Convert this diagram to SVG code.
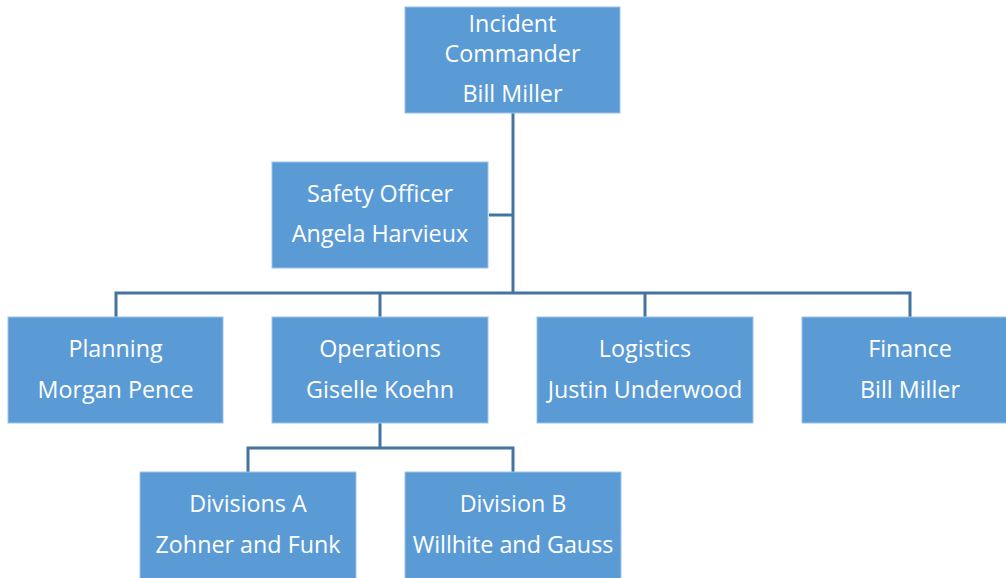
<svg xmlns="http://www.w3.org/2000/svg" width="1006" height="578" viewBox="0 0 1006 578">
<style>
.box{fill:#5B9BD5;stroke:#9DC3E6;stroke-width:1}
.t{font-family:"Open Sans","Liberation Sans",sans-serif;font-size:23.3px;fill:#FFFFFF;text-anchor:middle}
.c{fill:none;stroke:#4574A0;stroke-width:3}
</style>
<rect width="1006" height="578" fill="#FFFFFF"/>
<g id="connectors">
<path class="c" d="M513 113V293"/>
<path class="c" d="M489 215H513"/>
<path class="c" d="M116 317V293H910V317"/>
<path class="c" d="M380 293V317"/>
<path class="c" d="M645 293V317"/>
<path class="c" d="M380 423V448"/>
<path class="c" d="M248 472V448H513V472"/>
</g>
<g id="incident-commander">
<rect class="box" x="405" y="7" width="215" height="106"/>
<text class="t" x="512.5" y="32">Incident</text>
<text class="t" x="512.5" y="62">Commander</text>
<text class="t" x="512.5" y="102">Bill Miller</text>
</g>
<g id="safety-officer">
<rect class="box" x="272" y="162" width="216" height="106"/>
<text class="t" x="380" y="202">Safety Officer</text>
<text class="t" x="380" y="242">Angela Harvieux</text>
</g>
<g id="planning">
<rect class="box" x="8" y="317" width="215" height="106"/>
<text class="t" x="115.5" y="357">Planning</text>
<text class="t" x="115.5" y="398">Morgan Pence</text>
</g>
<g id="operations">
<rect class="box" x="272" y="317" width="216" height="106"/>
<text class="t" x="380" y="357">Operations</text>
<text class="t" x="380" y="398">Giselle Koehn</text>
</g>
<g id="logistics">
<rect class="box" x="537" y="317" width="216" height="106"/>
<text class="t" x="645" y="357">Logistics</text>
<text class="t" x="645" y="398">Justin Underwood</text>
</g>
<g id="finance">
<rect class="box" x="802" y="317" width="216" height="106"/>
<text class="t" x="910" y="357">Finance</text>
<text class="t" x="910" y="398">Bill Miller</text>
</g>
<g id="division-a">
<rect class="box" x="140" y="472" width="216" height="110"/>
<text class="t" x="248" y="512">Divisions A</text>
<text class="t" x="248" y="553">Zohner and Funk</text>
</g>
<g id="division-b">
<rect class="box" x="405" y="472" width="216" height="110"/>
<text class="t" x="513" y="512">Division B</text>
<text class="t" x="513" y="553">Willhite and Gauss</text>
</g>
</svg>
